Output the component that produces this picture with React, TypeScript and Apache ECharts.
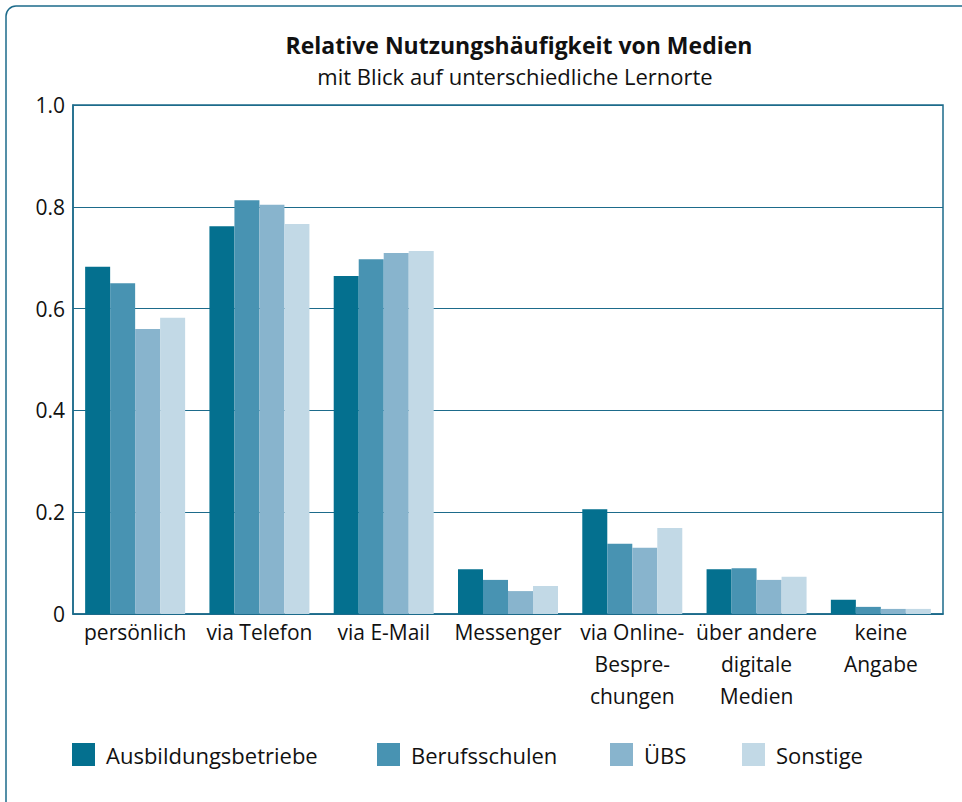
import React, { useEffect, useRef } from "react";
import * as echarts from "echarts";

const categories = [
  "persönlich",
  "via Telefon",
  "via E-Mail",
  "Messenger",
  "via Online-\nBespre-\nchungen",
  "über andere\ndigitale\nMedien",
  "keine\nAngabe",
];
const seriesNames = ["Ausbildungsbetriebe", "Berufsschulen", "ÜBS", "Sonstige"];
const ausbildungsbetriebe = [0.682, 0.762, 0.664, 0.088, 0.206, 0.088, 0.028];
const berufsschulen = [0.65, 0.813, 0.697, 0.067, 0.138, 0.09, 0.014];
const uebs = [0.56, 0.804, 0.709, 0.045, 0.13, 0.067, 0.01];
const sonstige = [0.582, 0.766, 0.713, 0.055, 0.169, 0.073, 0.01];
const colors = ["#04708f", "#4893b2", "#88b4cd", "#c2d9e6"];
const legendLefts = [72, 377, 610, 742];

const FONT = "Open Sans";
const LINE = "#1d6b8b";

export default function App() {
  const ref = useRef<HTMLDivElement>(null);
  useEffect(() => {
    document.body.style.margin = "0";
    if (!ref.current) return;
    const chart = echarts.init(ref.current, undefined, { renderer: "svg" });
    const data = [ausbildungsbetriebe, berufsschulen, uebs, sonstige];
    chart.setOption({
      animation: false,
      backgroundColor: "#ffffff",
      textStyle: { fontFamily: FONT },
      graphic: [
        {
          type: "rect",
          shape: { x: 6, y: 6, width: 980, height: 820, r: 10 },
          style: { fill: "none", stroke: LINE, lineWidth: 1.5 },
          silent: true,
        },
        {
          type: "text",
          x: 519,
          y: 45,
          style: {
            text: "Relative Nutzungshäufigkeit von Medien",
            fontFamily: FONT,
            fontWeight: "bold",
            fontSize: 23,
            fill: "#111",
            textAlign: "center",
            textVerticalAlign: "middle",
          },
        },
        {
          type: "text",
          x: 515,
          y: 76,
          style: {
            text: "mit Blick auf unterschiedliche Lernorte",
            fontFamily: FONT,
            fontSize: 22,
            fill: "#111",
            textAlign: "center",
            textVerticalAlign: "middle",
          },
        },
      ],
      legend: seriesNames.map((n, i) => ({
        data: [n],
        left: legendLefts[i],
        top: 743,
        orient: "horizontal",
        icon: "rect",
        itemWidth: 23,
        itemHeight: 23,
        selectedMode: false,
        padding: 0,
        textStyle: {
          fontFamily: FONT,
          fontSize: 22,
          color: "#111",
          padding: [0, 0, 0, 6],
        },
      })),
      grid: {
        left: 73,
        right: 19,
        top: 105,
        bottom: 188,
        show: true,
        borderColor: LINE,
        borderWidth: 1.5,
      },
      xAxis: {
        type: "category",
        data: categories,
        axisTick: { show: false },
        axisLine: { lineStyle: { color: LINE, width: 1.5 } },
        axisLabel: {
          interval: 0,
          color: "#111",
          fontFamily: FONT,
          fontSize: 21,
          lineHeight: 32,
          margin: 2,
        },
      },
      yAxis: {
        type: "value",
        min: 0,
        max: 1,
        interval: 0.2,
        axisLine: { show: true, lineStyle: { color: LINE, width: 1.5 } },
        axisTick: { show: false },
        splitLine: { lineStyle: { color: LINE, width: 1.2 } },
        axisLabel: {
          color: "#111",
          fontFamily: FONT,
          fontSize: 21,
          margin: 8,
          formatter: (v: number) => (v === 0 ? "0" : v.toFixed(1)),
        },
      },
      series: seriesNames.map((n, i) => ({
        name: n,
        type: "bar",
        data: data[i],
        barWidth: 25,
        barGap: "0%",
        itemStyle: { color: colors[i] },
      })),
    });
    return () => chart.dispose();
  }, []);
  return <div ref={ref} style={{ width: 962, height: 802 }} />;
}
